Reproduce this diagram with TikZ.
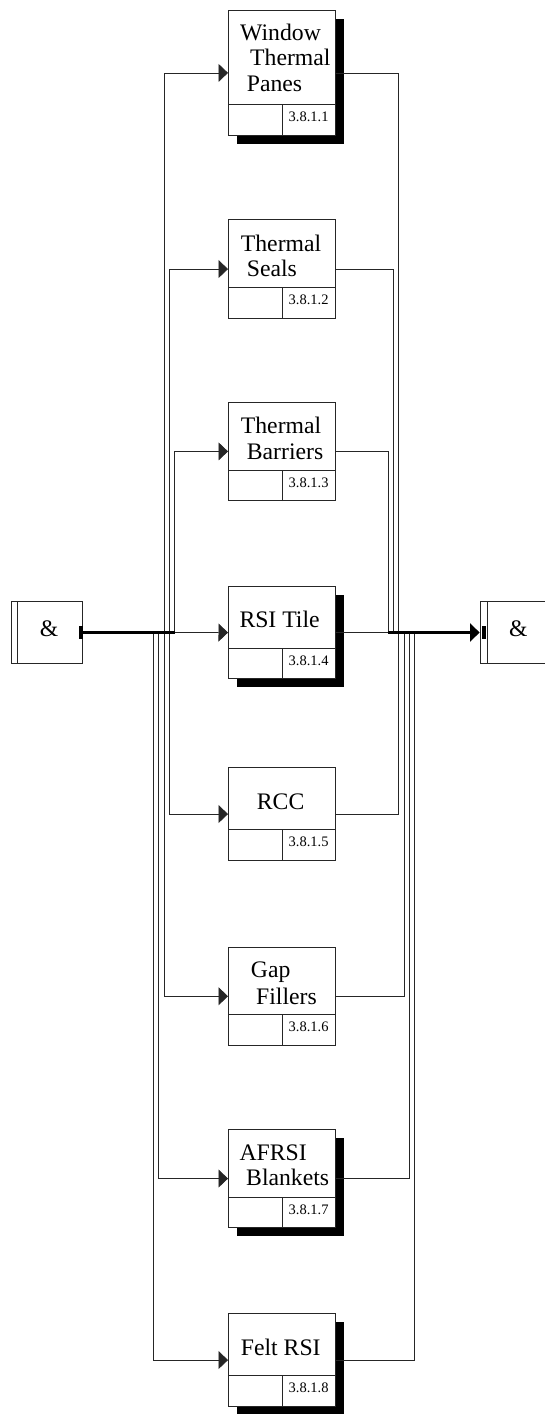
\documentclass[tikz,border=0pt]{standalone}
\usepackage{fontspec}
\setmainfont{Liberation Serif}
\usetikzlibrary{arrows.meta}
\tikzset{
  procbox/.style={draw=black!85, fill=white, line width=0.8pt, minimum width=107pt, inner sep=0pt, anchor=north west},
  andbox/.style={draw=black!85, fill=white, line width=0.8pt, minimum width=71pt, minimum height=61.6pt, inner sep=0pt},
  divline/.style={draw=black!85, line width=0.8pt},
  conn/.style={draw=black!85, line width=0.75pt},
  busline/.style={draw=black, line width=2.2pt},
  arr/.style={-{Triangle[length=9.5pt,width=18pt]}},
  ttl/.style={anchor=base west, inner sep=0pt, font=\fontsize{23.7}{26}\selectfont},
  numtxt/.style={anchor=base, inner sep=0pt, font=\fontsize{14.5}{16}\selectfont},
  shadowfill/.style={fill=black}
}
\newcommand\mkbox[4]{%
  \node[procbox, minimum height=#3pt] (#1) at (228,#2) {};
  \draw[divline] ([yshift=31pt]#1.south west) -- ([yshift=31pt]#1.south east);
  \draw[divline] (#1.south) -- ([yshift=31pt]#1.south);
  \node[numtxt] (#1n) at ([xshift=26.75pt,yshift=14pt]#1.south) {#4};
}
\newcommand\mkshadow[2]{%
  \fill[shadowfill] (237,{#1+9}) rectangle (344,{#1+#2+9});
}
\begin{document}
\begin{tikzpicture}[x=1pt,y=-1pt]
\useasboundingbox (0,0) rectangle (544,1414);
% shadows
\mkshadow{10}{125}
\mkshadow{586}{92.3}
\mkshadow{1129}{98.3}
\mkshadow{1313.3}{92.7}
% boxes
\mkbox{b1}{10}{125}{3.8.1.1}
\mkbox{b2}{219.3}{98.7}{3.8.1.2}
\mkbox{b3}{401.7}{98.6}{3.8.1.3}
\mkbox{b4}{586}{92.3}{3.8.1.4}
\mkbox{b5}{767.3}{92.7}{3.8.1.5}
\mkbox{b6}{946.7}{98.3}{3.8.1.6}
\mkbox{b7}{1129}{98.3}{3.8.1.7}
\mkbox{b8}{1313.3}{92.7}{3.8.1.8}
% titles
\node[ttl] (b1a) at (240,40) {Window};
\node[ttl] (b1b) at (250,65.7) {Thermal};
\node[ttl] (b1c) at (246.7,91.7) {Panes};
\node[ttl] (b2a) at (240.7,251.7) {Thermal};
\node[ttl] (b2b) at (246.7,276) {Seals};
\node[ttl] (b3a) at (240.7,433.3) {Thermal};
\node[ttl] (b3b) at (246.7,459) {Barriers};
\node[ttl] (b4a) at (239.3,627.3) {RSI Tile};
\node[ttl] (b5a) at (256.7,809.3) {RCC};
\node[ttl] (b6a) at (250.7,977.3) {Gap};
\node[ttl] (b6b) at (256,1004) {Fillers};
\node[ttl] (b7a) at (239.3,1160) {AFRSI};
\node[ttl] (b7b) at (246,1185) {Blankets};
\node[ttl] (b8a) at (240.7,1355) {Felt RSI};
% and boxes
\node[andbox] (andL) at (46.8,632.5) {};
\node[andbox] (andR) at (515.5,632.5) {};
\draw[divline] ([xshift=6pt]andL.north west) -- ([xshift=6pt]andL.south west);
\draw[divline] ([xshift=7.3pt]andR.north west) -- ([xshift=7.3pt]andR.south west);
\node[ttl, anchor=base] (andLt) at (49,636.7) {\&};
\node[ttl, anchor=base] (andRt) at (518.3,636.7) {\&};
\fill ([xshift=-4pt,yshift=6.6pt]andL.east) rectangle ([yshift=-6.6pt]andL.east);
\fill ([xshift=2.7pt,yshift=6.6pt]andR.west) rectangle ([xshift=6.7pt,yshift=-6.6pt]andR.west);
% junction coordinates
\coordinate (L1) at (164,632.5);
\coordinate (L2) at (169.3,632.5);
\coordinate (L3) at (174.7,632.5);
\coordinate (L5) at (169.3,632.5);
\coordinate (L6) at (164,632.5);
\coordinate (L7) at (158.7,632.5);
\coordinate (L8) at (153.3,632.5);
\coordinate (R1) at (398.7,632.5);
\coordinate (R2) at (393.3,632.5);
\coordinate (R3) at (388.3,632.5);
\coordinate (R5) at (398.7,632.5);
\coordinate (R6) at (404,632.5);
\coordinate (R7) at (409.3,632.5);
\coordinate (R8) at (414.7,632.5);
% left connectors
\draw[conn, arr] (L1) |- (b1.west);
\draw[conn, arr] (L2) |- (b2.west);
\draw[conn, arr] (L3) |- (b3.west);
\draw[conn, arr] (L3) -- (b4.west);
\draw[conn, arr] (L5) |- (b5.west);
\draw[conn, arr] (L6) |- (b6.west);
\draw[conn, arr] (L7) |- (b7.west);
\draw[conn, arr] (L8) |- (b8.west);
% right connectors
\draw[conn] (b1.east) -| (R1);
\draw[conn] (b2.east) -| (R2);
\draw[conn] (b3.east) -| (R3);
\draw[conn] (b4.east) -- (R3);
\draw[conn] (b5.east) -| (R5);
\draw[conn] (b6.east) -| (R6);
\draw[conn] (b7.east) -| (R7);
\draw[conn] (b8.east) -| (R8);
% bus lines
\draw[busline] (andL.east) -- (L3);
\draw[busline, -{Triangle[length=9.5pt,width=18pt]}] (R3) -- (andR.west);
\end{tikzpicture}
\end{document}
